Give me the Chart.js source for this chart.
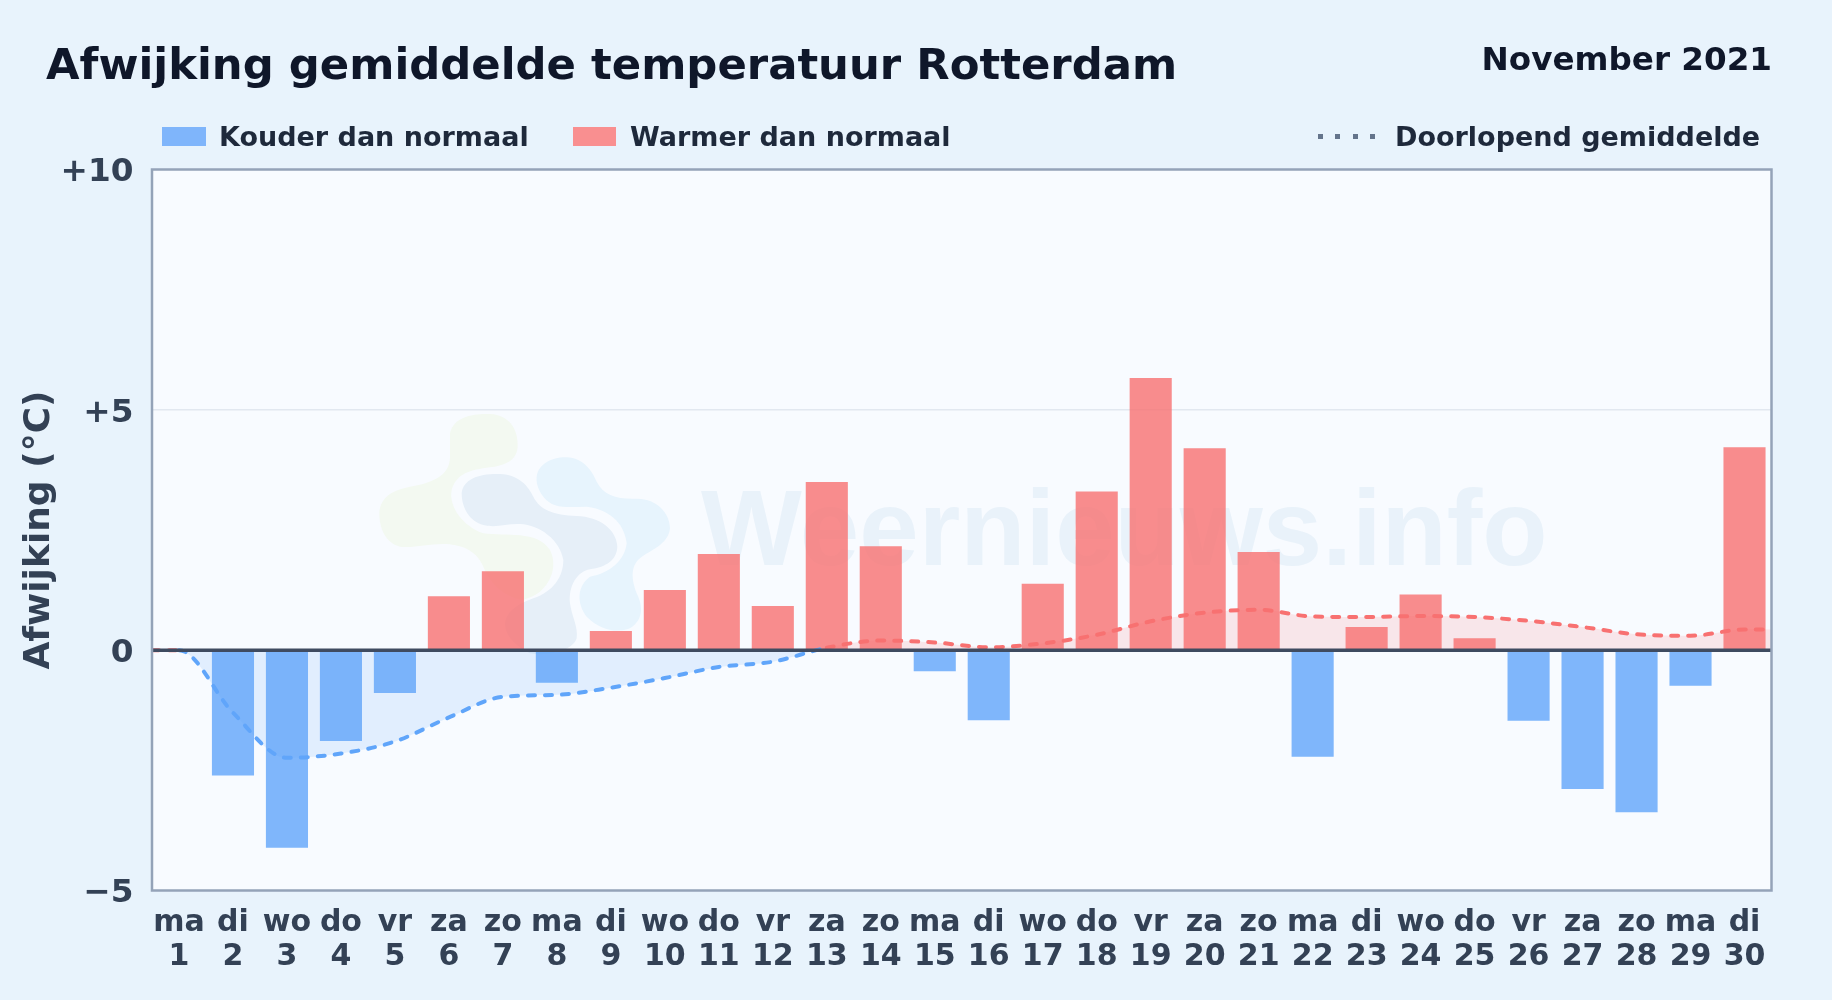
<!DOCTYPE html>
<html lang="nl">
<head>
<meta charset="utf-8">
<title>Afwijking gemiddelde temperatuur Rotterdam</title>
<script src="https://cdn.jsdelivr.net/npm/chart.js@4"></script>
<style>
  html, body { margin: 0; padding: 0; background: #e8f3fc; }
  body { width: 1832px; height: 1000px; position: relative; overflow: hidden;
         font-family: "DejaVu Sans", sans-serif; font-weight: 700; }
  #chart { position: absolute; left: 0; top: 0; }
  .t { position: absolute; white-space: nowrap; line-height: 1; }
  #title { left: 46px; top: 42.5px; font-size: 43.35px; color: #0f172a; }
  #date { right: 60px; top: 43px; font-size: 32.6px; color: #0f172a; }
  .lg { top: 122.5px; font-size: 27px; color: #1e293b; }
  .sw { position: absolute; top: 127px; height: 19px; }
  #dots { position: absolute; left: 1318px; top: 134px; width: 58px; height: 5px;
          background: repeating-linear-gradient(90deg, #64748b 0 5px, transparent 5px 17.4px); }
</style>
</head>
<body>
<canvas id="chart" width="1832" height="1000"></canvas>
<div class="t" id="title">Afwijking gemiddelde temperatuur Rotterdam</div>
<div class="t" id="date">November 2021</div>
<div class="sw" style="left:162px;width:44px;background:#7fb5fb"></div>
<div class="t lg" style="left:219px">Kouder dan normaal</div>
<div class="sw" style="left:573px;width:43px;background:#f98f90"></div>
<div class="t lg" style="left:630px">Warmer dan normaal</div>
<div id="dots"></div>
<div class="t lg" style="left:1395px">Doorlopend gemiddelde</div>
<script>
// --- data
const weekdays = ["ma","di","wo","do","vr","za","zo","ma","di","wo","do","vr","za","zo","ma","di","wo","do","vr","za","zo","ma","di","wo","do","vr","za","zo","ma","di"];
const days = [1,2,3,4,5,6,7,8,9,10,11,12,13,14,15,16,17,18,19,20,21,22,23,24,25,26,27,28,29,30];
const colder = [null,-2.61,-4.11,-1.89,-0.89,null,null,-0.68,null,null,null,null,null,null,-0.44,-1.46,null,null,null,null,null,-2.22,null,null,null,-1.47,-2.89,-3.37,-0.74,null];
const warmer = [null,null,null,null,null,1.12,1.64,null,0.40,1.25,2.00,0.92,3.50,2.16,null,null,1.38,3.30,5.66,4.20,2.04,null,0.48,1.16,0.25,null,null,null,null,4.22];
const running = [0,-1.30,-2.24,-2.15,-1.90,-1.40,-0.97,-0.93,-0.78,-0.58,-0.35,-0.24,0.05,0.20,0.16,0.06,0.14,0.32,0.60,0.78,0.84,0.70,0.69,0.71,0.69,0.61,0.48,0.33,0.30,0.43];
const yTicks = { "10": "+10", "5": "+5", "0": "0", "-5": "\u22125" };

const labels = days.map((d, i) => [weekdays[i], String(d)]);
// the running line runs on to both plot edges
const runningPoints = [{ x: 0.5, y: running[0] }]
  .concat(days.map((d, i) => ({ x: d, y: running[i] })))
  .concat([{ x: 30.5, y: running[29] }]);

// logo blobs, in their own little coordinate box
const logoParts = [
  ["#f3f9f1", "M300 130C310 80 370 70 420 72C480 75 505 120 503 170C500 210 470 225 420 232C360 240 320 250 305 300C295 350 340 410 400 430C470 440 560 420 600 480C620 520 610 570 570 605C550 620 530 625 520 630C460 620 420 580 400 530C380 480 330 462 280 462C230 462 190 475 150 470C110 460 88 420 88 370C90 320 130 300 180 290C240 280 300 260 300 200Z"],
  ["#e6eff8", "M335 310C340 265 390 250 450 252C510 255 535 290 550 320C570 360 610 375 680 378C750 380 800 420 802 470C800 510 770 530 720 538C680 545 655 590 660 640C665 680 685 710 680 745C670 780 600 800 540 790C500 770 465 740 465 700C470 660 510 640 550 625C610 605 640 560 640 510C630 450 570 405 510 402C470 400 440 415 400 405C360 395 335 355 335 310Z"],
  ["#e7f4fd", "M560 260C565 220 610 200 650 202C700 205 725 240 740 275C760 315 800 328 860 326C920 325 960 370 960 415C955 465 900 480 870 505C840 530 845 570 860 610C880 650 880 690 840 715C800 730 750 720 710 680C680 640 680 590 720 560C780 550 825 510 830 460C825 410 790 360 710 350C660 350 610 360 580 320C565 300 558 280 560 260Z"]
];

// plot background, watermark, frame and zero line
const decor = {
  id: "decor",
  beforeDatasetsDraw(chart) {
    const { ctx, chartArea: a } = chart;
    ctx.save();
    ctx.fillStyle = "#f8fbff";
    ctx.fillRect(a.left, a.top, a.right - a.left, a.bottom - a.top);
    // gridline on top of the fill
    const y5 = chart.scales.y.getPixelForValue(5);
    ctx.strokeStyle = "#e2e8f0";
    ctx.lineWidth = 1.5;
    ctx.beginPath(); ctx.moveTo(a.left, y5); ctx.lineTo(a.right, y5); ctx.stroke();
    // logo
    ctx.save();
    ctx.translate(350, 390);
    ctx.scale(1 / 3, 1 / 3);
    logoParts.forEach(([c, d]) => { ctx.fillStyle = c; ctx.fill(new Path2D(d)); });
    ctx.restore();
    // watermark text
    ctx.fillStyle = "#e9f2fa";
    ctx.font = "700 106.8px 'Liberation Sans'";
    ctx.textBaseline = "alphabetic";
    ctx.fillText("Weernieuws.info", 701, 565);
    ctx.restore();
  },
  afterDatasetsDraw(chart) {
    const { ctx, chartArea: a } = chart;
    const y0 = chart.scales.y.getPixelForValue(0);
    ctx.save();
    ctx.strokeStyle = "#3f4b60";
    ctx.lineWidth = 3.5;
    ctx.beginPath(); ctx.moveTo(a.left, y0); ctx.lineTo(a.right, y0); ctx.stroke();
    ctx.strokeStyle = "#94a3b8";
    ctx.lineWidth = 2.5;
    ctx.strokeRect(a.left, a.top, a.right - a.left, a.bottom - a.top);
    ctx.restore();
  }
};

const segColor = c => ((c.p0.parsed.y + c.p1.parsed.y) / 2 < 0 ? "#60a5fa" : "#f87171");

new Chart(document.getElementById("chart").getContext("2d"), {
  data: {
    labels,
    datasets: [
      { type: "bar", label: "Kouder dan normaal", data: colder, backgroundColor: "rgba(96,165,250,0.8)",
        barPercentage: 0.78, categoryPercentage: 1, grouped: false, order: 2 },
      { type: "bar", label: "Warmer dan normaal", data: warmer, backgroundColor: "rgba(248,113,113,0.8)",
        barPercentage: 0.78, categoryPercentage: 1, grouped: false, order: 2 },
      { type: "line", label: "Doorlopend gemiddelde", data: runningPoints, xAxisID: "xLine", order: 1,
        borderWidth: 4, borderDash: [7, 10], borderCapStyle: "round", pointRadius: 0,
        cubicInterpolationMode: "monotone", borderColor: "#f87171",
        segment: { borderColor: segColor },
        fill: { target: { value: 0 }, above: "rgba(248,113,113,0.15)", below: "rgba(96,165,250,0.15)" } }
    ]
  },
  options: {
    responsive: false,
    animation: false,
    devicePixelRatio: 1,
    layout: { padding: { top: 169.5, right: 60.5, left: 0, bottom: 0 } },
    plugins: { legend: { display: false }, title: { display: false }, tooltip: { enabled: false } },
    scales: {
      x: {
        grid: { display: false }, border: { display: false },
        afterFit(s) { s.height = 109.5; },
        ticks: { maxRotation: 0, autoSkip: false, padding: 7.5, color: "#334155",
                 font: { family: "DejaVu Sans", weight: "700", size: 30, lineHeight: 1.13 } }
      },
      xLine: { type: "linear", display: false, min: 0.5, max: 30.5 },
      y: {
        min: -5, max: 10,
        grid: { display: false }, border: { display: false },
        afterFit(s) { s.width = 152; },
        title: { display: true, text: "Afwijking (\u00b0C)", color: "#334155", padding: { top: 18, bottom: 0 },
                 font: { family: "DejaVu Sans", weight: "700", size: 36 } },
        // empty first line nudges the label down to where the reference has it
        ticks: { stepSize: 5, padding: 10.5, color: "#334155", callback: v => ["", yTicks[v] ?? ""],
                 font: { family: "DejaVu Sans", weight: "700", size: 32.7, lineHeight: 0.2 } }
      }
    }
  },
  plugins: [decor]
});
</script>
</body>
</html>
